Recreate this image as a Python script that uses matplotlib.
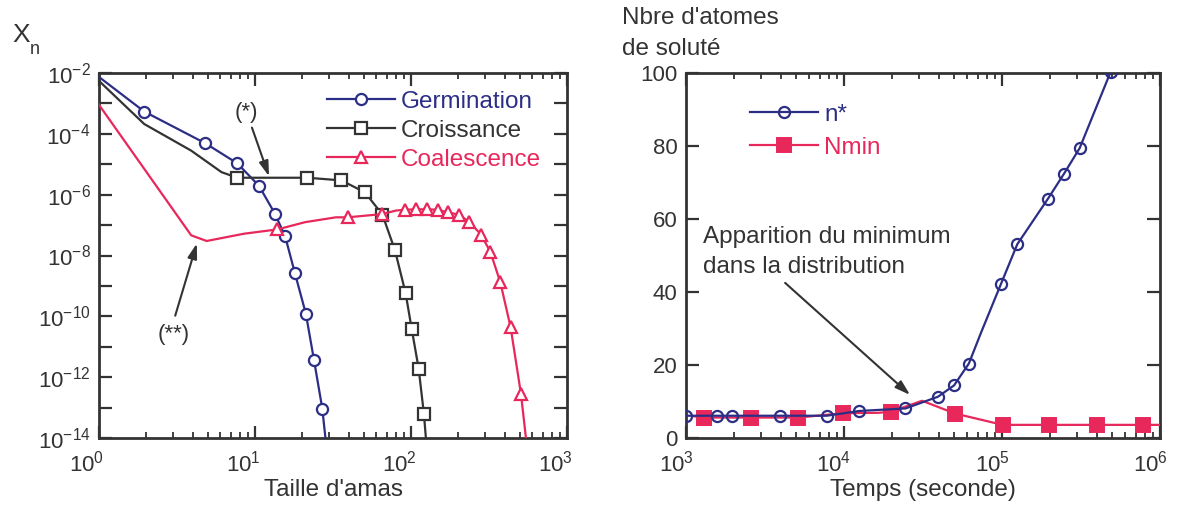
import matplotlib
matplotlib.use("Agg")
import matplotlib.pyplot as plt
from matplotlib.ticker import FixedLocator, FixedFormatter, LogLocator, NullLocator, NullFormatter
from matplotlib.transforms import ScaledTranslation

plt.rcParams['font.family'] = ['Liberation Sans', 'DejaVu Sans']
plt.rcParams['mathtext.fontset'] = 'custom'
plt.rcParams['mathtext.rm'] = 'Liberation Sans'
plt.rcParams['mathtext.it'] = 'Liberation Sans:italic'
plt.rcParams['mathtext.bf'] = 'Liberation Sans:bold'

# ---------------- data: left panel (cluster size distribution) ----------------
germ_n = [1.0, 1.95, 4.8, 7.7, 10.6, 13.4, 15.6, 18.0, 21.2, 23.9, 27.0, 29.0]
germ_x = [7.4e-3, 5.4e-4, 4.9e-5, 1.07e-5, 1.96e-6, 2.4e-7, 4.3e-8, 2.7e-9,
          1.2e-10, 3.6e-12, 9.3e-14, 3e-15]
germ_marks = [1, 2, 3, 4, 5, 6, 7, 8, 9, 10]

cro_n = [1.0, 1.95, 3.9, 6.1, 7.7, 21.7, 35.7, 50.6, 65.6, 78.9, 92.4, 101, 112, 121, 127]
cro_x = [5.5e-3, 2.1e-4, 2.8e-5, 5.5e-6, 3.6e-6, 3.6e-6, 2.95e-6, 1.2e-6, 2.2e-7,
         1.5e-8, 5.7e-10, 3.9e-11, 1.9e-12, 6.2e-14, 3e-15]
cro_marks = [4, 5, 6, 7, 8, 9, 10, 11, 12, 13]

coa_n = [1.0, 3.9, 4.9, 8.5, 13.9, 21, 33, 39.3, 65.6, 80, 91.3, 108, 127, 148,
         173, 203, 237, 281, 323, 374, 435, 507, 560]
coa_x = [9e-4, 4.6e-8, 3.0e-8, 5.2e-8, 7.2e-8, 1.25e-7, 1.8e-7, 1.8e-7, 2.3e-7,
         3.0e-7, 3.2e-7, 3.3e-7, 3.3e-7, 3.2e-7, 2.6e-7, 2.2e-7, 1.25e-7, 4.9e-8,
         1.3e-8, 1.3e-9, 4.4e-11, 2.8e-13, 3e-15]
coa_marks = [4, 7, 8, 10, 11, 12, 13, 14, 15, 16, 17, 18, 19, 20, 21]

x1_ticks = [1, 10, 100, 1000]
x1_labels = [r'$10^{0}$', r'$10^{1}$', r'$10^{2}$', r'$10^{3}$']
y1_ticks = [1e-14, 1e-13, 1e-12, 1e-11, 1e-10, 1e-9, 1e-8, 1e-7, 1e-6, 1e-5, 1e-4, 1e-3, 1e-2]
y1_labels = [r'$10^{-14}$', '', r'$10^{-12}$', '', r'$10^{-10}$', '', r'$10^{-8}$', '',
             r'$10^{-6}$', '', r'$10^{-4}$', '', r'$10^{-2}$']

# ---------------- data: right panel (n* and Nmin vs time) ----------------
nstar_t = [1000, 1574, 1960, 3927, 7780, 12450, 24500, 39300, 49700, 61700, 73900,
           98500, 125000, 195000, 246000, 310000, 488000]
nstar_v = [6.1, 6.1, 6.1, 6.1, 6.1, 7.4, 8.1, 11.3, 14.4, 20.4, 29.0, 42.2, 53.1,
           65.5, 72.3, 79.4, 100.4]
nstar_marks = [0, 1, 2, 3, 4, 5, 6, 7, 8, 9, 11, 12, 13, 14, 15, 16]

nmin_t = [1100, 1300, 2560, 5130, 9890, 16500, 19800, 31200, 50500, 101000, 199000,
          398000, 781000, 1000000]
nmin_v = [6.0, 5.6, 5.6, 5.6, 6.8, 6.9, 7.2, 10.2, 6.7, 3.6, 3.6, 3.6, 3.6, 3.6]
nmin_marks = [1, 2, 3, 4, 6, 8, 9, 10, 11, 12]

x2_ticks = [1e3, 1e4, 1e5, 1e6]
x2_labels = [r'$10^{3}$', r'$10^{4}$', r'$10^{5}$', r'$10^{6}$']
y2_ticks = [0, 20, 40, 60, 80, 100]
y2_labels = ['0', '20', '40', '60', '80', '100']

# ---------------- style ----------------
C_BLUE = '#2c2e86'
C_BLACK = '#333333'
C_RED = '#e8275b'
C_TXT = '#333333'
TICK_FS = 16
LAB_FS = 17.5

fig = plt.figure(figsize=(11.79, 5.07), dpi=100)
ax1 = fig.add_axes([99 / 1179, 69 / 507, 468 / 1179, 365 / 507])
ax2 = fig.add_axes([686 / 1179, 69 / 507, 474 / 1179, 365 / 507])


def style_axes(ax):
    for s in ax.spines.values():
        s.set_linewidth(2.0)
        s.set_color(C_BLACK)
    ax.tick_params(which='both', direction='in', top=True, right=True,
                   color=C_BLACK, labelcolor=C_TXT, labelsize=TICK_FS)
    ax.tick_params(which='major', length=9, width=1.6)
    ax.tick_params(which='minor', length=4.5, width=1.3)
    ax.tick_params(axis='y', which='major', length=9.5, pad=6)
    ax.tick_params(axis='x', which='major', pad=9)


# ---------------- left panel ----------------
ax1.set_xscale('log')
ax1.set_yscale('log')
ax1.plot(germ_n, germ_x, '-', color=C_BLUE, lw=1.6, marker='o', ms=8,
         mfc='white', mec=C_BLUE, mew=1.6, markevery=germ_marks, label='Germination', zorder=3)
ax1.plot(cro_n, cro_x, '-', color=C_BLACK, lw=1.6, marker='s', ms=9,
         mfc='white', mec=C_BLACK, mew=1.6, markevery=cro_marks, label='Croissance', zorder=3)
ax1.plot(coa_n, coa_x, '-', color=C_RED, lw=1.6, marker='^', ms=9,
         mfc='white', mec=C_RED, mew=1.6, markevery=coa_marks, label='Coalescence', zorder=3)
ax1.set_xlim(1, 1000)
ax1.set_ylim(1e-14, 1e-2)
ax1.xaxis.set_major_locator(FixedLocator(x1_ticks))
ax1.xaxis.set_major_formatter(FixedFormatter(x1_labels))
ax1.xaxis.set_minor_locator(LogLocator(base=10, subs=[2, 3, 4, 5, 6, 7, 8, 9], numticks=20))
ax1.xaxis.set_minor_formatter(NullFormatter())
ax1.yaxis.set_major_locator(FixedLocator(y1_ticks))
ax1.yaxis.set_major_formatter(FixedFormatter(y1_labels))
ax1.yaxis.set_minor_locator(NullLocator())
style_axes(ax1)

leg1 = ax1.legend(loc='upper left', bbox_to_anchor=(0.487, 0.952), frameon=False,
                  fontsize=LAB_FS, handlelength=2.8, handletextpad=0.25,
                  labelspacing=0.29, borderpad=0, borderaxespad=0, numpoints=1)
for t, c in zip(leg1.get_texts(), [C_BLUE, C_TXT, C_RED]):
    t.set_color(c)

ax1.xaxis.set_label_coords(0.5, -0.112)
ax1.set_xlabel("Taille d'amas", fontsize=LAB_FS, color=C_TXT, va='top')

arrow_kw = dict(arrowstyle='-|>,head_length=0.9,head_width=0.28', color=C_BLACK,
                lw=1.5, shrinkA=0, shrinkB=0)
ax1.annotate('', xy=(12.3, 4e-6), xytext=(9.56, 1.6e-4), arrowprops=arrow_kw)
ax1.text(8.8, 4.9e-4, '(*)', fontsize=16, color=C_TXT, ha='center', va='center')
ax1.annotate('', xy=(4.24, 2.5e-8), xytext=(3.08, 1.05e-10), arrowprops=arrow_kw)
ax1.text(3.03, 2.6e-11, '(**)', fontsize=16, color=C_TXT, ha='center', va='center')

# ---------------- right panel ----------------
ax2.set_xscale('log')
ax2.plot(nmin_t, nmin_v, '-', color=C_RED, lw=1.6, marker='s', ms=10,
         mfc=C_RED, mec=C_RED, mew=1.4, markevery=nmin_marks, label='Nmin', zorder=3)
ax2.plot(nstar_t, nstar_v, '-', color=C_BLUE, lw=1.6, marker='o', ms=8,
         mfc='none', mec=C_BLUE, mew=1.6, markevery=nstar_marks, label='n*', zorder=4)
ax2.set_xlim(1e3, 1e6)
ax2.set_ylim(0, 100)
ax2.xaxis.set_major_locator(FixedLocator(x2_ticks))
ax2.xaxis.set_major_formatter(FixedFormatter(x2_labels))
ax2.xaxis.set_minor_locator(LogLocator(base=10, subs=[2, 3, 4, 5, 6, 7, 8, 9], numticks=20))
ax2.xaxis.set_minor_formatter(NullFormatter())
ax2.yaxis.set_major_locator(FixedLocator(y2_ticks))
ax2.yaxis.set_major_formatter(FixedFormatter(y2_labels))
ax2.yaxis.set_minor_locator(NullLocator())
style_axes(ax2)

h, l = ax2.get_legend_handles_labels()
leg2 = ax2.legend([h[1], h[0]], [l[1], l[0]], loc='upper left', bbox_to_anchor=(0.135, 0.916),
                  frameon=False, fontsize=LAB_FS, handlelength=2.8, handletextpad=0.25,
                  labelspacing=0.46, borderpad=0, borderaxespad=0, numpoints=1)
for t, c in zip(leg2.get_texts(), [C_BLUE, C_RED]):
    t.set_color(c)

ax2.xaxis.set_label_coords(0.5, -0.112)
ax2.set_xlabel('Temps (seconde)', fontsize=LAB_FS, color=C_TXT, va='top')

ax2.annotate('', xy=(26200, 11.8), xytext=(4240, 42.5), arrowprops=arrow_kw)
ax2.text(1282, 51.0, 'Apparition du minimum\ndans la distribution', fontsize=LAB_FS,
         color=C_TXT, ha='left', va='center', linespacing=1.45)

# ---------------- axis titles ----------------
fig.text(12 / 1179, 1 - 42 / 507, 'X', fontsize=19, color=C_TXT, ha='left', va='baseline')
fig.text(30 / 1179, 1 - 54 / 507, 'n', fontsize=13, color=C_TXT, ha='left', va='baseline')
fig.text(622 / 1179, 1 - 24 / 507, "Nbre d'atomes", fontsize=LAB_FS, color=C_TXT,
         ha='left', va='baseline')
fig.text(622 / 1179, 1 - 55 / 507, 'de soluté', fontsize=LAB_FS, color=C_TXT,
         ha='left', va='baseline')

# shift x tick labels so the tick sits near the start of the exponent
fig.canvas.draw()
for ax, dx in ((ax1, -12), (ax2, -10)):
    shift = ScaledTranslation(dx / 100, 0, fig.dpi_scale_trans)
    for lbl in ax.get_xticklabels():
        lbl.set_transform(lbl.get_transform() + shift)

fig.savefig('out.png', dpi=100)
